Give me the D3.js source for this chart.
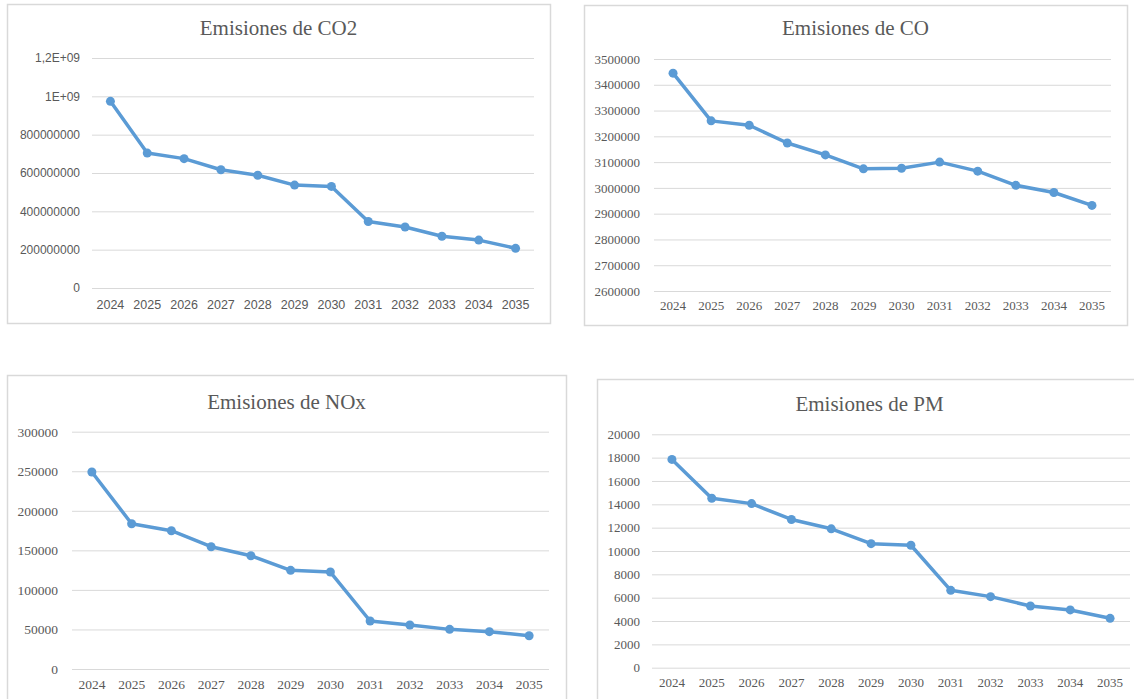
<!DOCTYPE html>
<html>
<head>
<meta charset="utf-8">
<script src="https://cdn.jsdelivr.net/npm/d3@7"></script>
<style>
  html, body { margin: 0; padding: 0; background: #ffffff; }
  svg { display: block; }
</style>
</head>
<body>
<svg id="chart" width="1134" height="699"></svg>
<script>
// ---------- DATA ----------
const years = ["2024","2025","2026","2027","2028","2029","2030","2031","2032","2033","2034","2035"];

const co2Values = [974000000, 704000000, 675000000, 617000000, 588000000, 537000000, 530000000, 347000000, 318000000, 270000000, 250000000, 207000000];
const coValues  = [3445000, 3260000, 3243000, 3174000, 3128000, 3074000, 3076000, 3100000, 3065000, 3010000, 2982000, 2932000];
const noxValues = [249000, 183700, 174800, 154600, 143200, 124700, 122600, 60700, 55600, 50100, 47200, 42100];
const pmValues  = [17850, 14520, 14060, 12700, 11900, 10630, 10490, 6630, 6090, 5290, 4950, 4230];

const co2Ticks = [0, 200000000, 400000000, 600000000, 800000000, 1000000000, 1200000000];
const co2TickLabels = ["0", "200000000", "400000000", "600000000", "800000000", "1E+09", "1,2E+09"];
const coTicks = [2600000, 2700000, 2800000, 2900000, 3000000, 3100000, 3200000, 3300000, 3400000, 3500000];
const coTickLabels = ["2600000", "2700000", "2800000", "2900000", "3000000", "3100000", "3200000", "3300000", "3400000", "3500000"];
const noxTicks = [0, 50000, 100000, 150000, 200000, 250000, 300000];
const noxTickLabels = ["0", "50000", "100000", "150000", "200000", "250000", "300000"];
const pmTicks = [0, 2000, 4000, 6000, 8000, 10000, 12000, 14000, 16000, 18000, 20000];
const pmTickLabels = ["0", "2000", "4000", "6000", "8000", "10000", "12000", "14000", "16000", "18000", "20000"];

const titles = ["Emisiones de CO2", "Emisiones de CO", "Emisiones de NOx", "Emisiones de PM"];

// ---------- LAYOUT ----------
const SERIF = "'Liberation Serif', 'Times New Roman', serif";
const SANS = "'Liberation Sans', Arial, sans-serif";
const TEXT = "#595959";
const GRID = "#d9d9d9";
const LINE = "#5b9bd5";

const panels = [
  { title: titles[0], values: co2Values, ticks: co2Ticks, labels: co2TickLabels,
    frame: [7, 4, 543, 319], plot: [92, 58, 534, 288], titleY: 28, titleSize: 21,
    tickFont: SANS, tickSize: 12, xFont: SANS, xSize: 12.5, tickPad: 12, xPad: 18 },
  { title: titles[1], values: coValues, ticks: coTicks, labels: coTickLabels,
    frame: [584, 5, 543, 320], plot: [654, 59, 1111, 291], titleY: 28, titleSize: 21,
    tickFont: SERIF, tickSize: 13, xFont: SERIF, xSize: 13, tickPad: 14, xPad: 16 },
  { title: titles[2], values: noxValues, ticks: noxTicks, labels: noxTickLabels,
    frame: [7, 375, 559, 330], plot: [72, 431.7, 549, 669], titleY: 402, titleSize: 21,
    tickFont: SERIF, tickSize: 13.5, xFont: SERIF, xSize: 13.5, tickPad: 14, xPad: 16 },
  { title: titles[3], values: pmValues, ticks: pmTicks, labels: pmTickLabels,
    frame: [597, 379, 545, 330], plot: [652, 434.3, 1130, 667.7], titleY: 404, titleSize: 21,
    tickFont: SERIF, tickSize: 13, xFont: SERIF, xSize: 13, tickPad: 12, xPad: 16 }
];

const svg = d3.select("#chart");

panels.forEach(p => {
  const g = svg.append("g");
  const [fx, fy, fw, fh] = p.frame;
  g.append("rect")
    .attr("x", fx + 0.5).attr("y", fy + 0.5)
    .attr("width", fw).attr("height", fh)
    .attr("fill", "#ffffff").attr("stroke", GRID).attr("stroke-width", 1.5);

  const [x0, yTop, x1, yBot] = p.plot;
  const x = d3.scaleBand().domain(years).range([x0, x1]).padding(0);
  const y = d3.scaleLinear().domain([p.ticks[0], p.ticks[p.ticks.length - 1]]).range([yBot, yTop]);

  // gridlines + y labels
  const yAxis = d3.axisLeft(y)
    .tickValues(p.ticks)
    .tickFormat((d, i) => p.labels[i])
    .tickSize(-(x1 - x0))
    .tickPadding(p.tickPad);
  const ya = g.append("g").attr("transform", `translate(${x0},0)`).call(yAxis);
  ya.select(".domain").remove();
  ya.selectAll(".tick line").attr("stroke", GRID).attr("stroke-width", 1);
  ya.selectAll(".tick text")
    .attr("fill", TEXT)
    .style("font-family", p.tickFont)
    .style("font-size", p.tickSize + "px");

  // x labels
  const xAxis = d3.axisBottom(x).tickSize(0).tickPadding(p.xPad - 6);
  const xa = g.append("g").attr("transform", `translate(0,${yBot})`).call(xAxis);
  xa.select(".domain").remove();
  xa.selectAll(".tick text")
    .attr("fill", TEXT)
    .style("font-family", p.xFont)
    .style("font-size", p.xSize + "px");

  // title
  g.append("text")
    .attr("x", fx + fw / 2).attr("y", p.titleY)
    .attr("text-anchor", "middle").attr("dominant-baseline", "central")
    .attr("fill", TEXT)
    .style("font-family", SERIF)
    .style("font-size", p.titleSize + "px")
    .text(p.title);

  // line
  const cx = d => x(d) + x.bandwidth() / 2;
  const line = d3.line().x((d, i) => cx(years[i])).y(d => y(d));
  g.append("path")
    .datum(p.values)
    .attr("d", line)
    .attr("fill", "none")
    .attr("stroke", LINE)
    .attr("stroke-width", 3.5)
    .attr("stroke-linejoin", "round");

  g.selectAll("circle.pt")
    .data(p.values)
    .enter().append("circle")
    .attr("class", "pt")
    .attr("cx", (d, i) => cx(years[i]))
    .attr("cy", d => y(d))
    .attr("r", 4.5)
    .attr("fill", LINE);
});
</script>
</body>
</html>
